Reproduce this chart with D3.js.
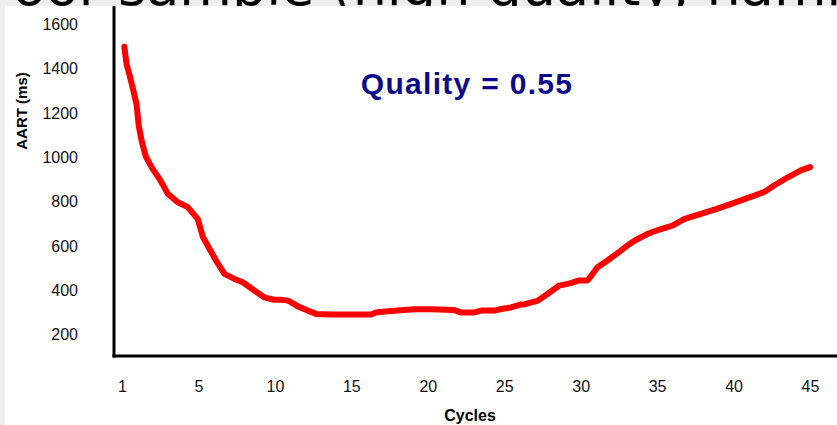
<!DOCTYPE html>
<html><head><meta charset="utf-8">
<script src="https://cdn.jsdelivr.net/npm/d3@7"></script>
<style>html,body{margin:0;padding:0;background:#eeeeee;overflow:hidden}svg{display:block}</style>
</head><body>
<svg id="c" width="837" height="425"></svg>
<script>
const slideTitle = "Poor sample (high quality, hamming window)";
const chartNote = "Quality = 0.55";
const xTitle = "Cycles";
const yTitle = "AART (ms)";
const xTickPos = [0, 5, 10, 15, 20, 25, 30, 35, 40, 45];
const xTickLabels = ["1", "5", "10", "15", "20", "25", "30", "35", "40", "45"];
const yTicks = [200, 400, 600, 800, 1000, 1200, 1400, 1600];
const cycles = [0.15,0.3,0.5,0.75,0.95,1.1,1.3,1.55,2.0,2.45,3.0,3.65,4.3,4.95,5.3,5.6,6.15,6.7,7.35,7.9,8.65,9.3,9.95,10.4,10.85,11.05,11.5,12.15,12.7,13.7,14.75,16.3,16.6,17.4,19.1,20.2,21.7,22.2,23.0,23.5,24.35,24.8,25.45,26.1,26.3,27.2,27.85,28.6,29.35,29.9,30.45,30.7,31.1,31.75,32.5,33.2,33.6,34.4,35.15,36.0,36.8,37.65,38.75,39.85,40.9,42.0,42.65,43.55,44.4,45.0];
const aart = [1500,1420,1370,1300,1240,1140,1070,1005,948,903,835,797,775,722,639,602,534,474,451,436,399,368,357,357,353,346,327,308,293,290,290,290,299,305,314,314,311,299,299,308,308,315,322,336,336,353,384,421,432,444,444,466,504,534,572,609,627,655,674,692,722,740,764,790,816,843,873,910,941,956];

const svg = d3.select("#c");
const font = "'Liberation Sans', Arial, sans-serif";

// slide background band + clipped slide title
svg.append("rect").attr("x",0).attr("y",0).attr("width",837).attr("height",425).attr("fill","#eeeeee");
svg.append("text").attr("x",-18).attr("y",5).attr("font-family","'DejaVu Sans', sans-serif")
  .attr("font-size",54).attr("fill","#000").text(slideTitle);
// chart picture area
svg.append("rect").attr("x",5).attr("y",6).attr("width",832).attr("height",419).attr("fill","#ffffff");

const x = d3.scaleLinear().domain([0,45]).range([122,810]);
const y = d3.scaleLinear().domain([200,1600]).range([334.5,24.5]);
const axisX = 114, axisY = 356;

// y tick labels
const ya = svg.append("g").attr("transform",`translate(${axisX},0)`)
  .call(d3.axisLeft(y).tickValues(yTicks).tickSize(0).tickPadding(36).tickFormat(d3.format("d")));
ya.select(".domain").remove();
ya.selectAll("text").attr("font-family",font).attr("font-size",16).attr("fill","#111");

// x tick labels
const xa = svg.append("g").attr("transform",`translate(0,${axisY})`)
  .call(d3.axisBottom(x).tickValues(xTickPos).tickSize(0).tickFormat((d,i)=>xTickLabels[i]));
xa.select(".domain").remove();
xa.selectAll("text").attr("font-family",font).attr("font-size",16).attr("fill","#111")
  .attr("y",36).attr("dy",0);

// axes lines
svg.append("line").attr("x1",axisX).attr("x2",axisX).attr("y1",6).attr("y2",axisY+1.5)
  .attr("stroke","#000").attr("stroke-width",3);
svg.append("line").attr("x1",axisX-1.5).attr("x2",837).attr("y1",axisY).attr("y2",axisY)
  .attr("stroke","#000").attr("stroke-width",3);

// axis titles
svg.append("text").attr("transform","translate(27,111) rotate(-90)").attr("text-anchor","middle")
  .attr("font-family",font).attr("font-weight","bold").attr("font-size",15).attr("fill","#000").text(yTitle);
svg.append("text").attr("x",470).attr("y",421).attr("text-anchor","middle")
  .attr("font-family",font).attr("font-weight","bold").attr("font-size",16).attr("fill","#000").text(xTitle);

// annotation
svg.append("text").attr("x",467).attr("y",94).attr("text-anchor","middle")
  .attr("font-family",font).attr("font-weight","bold").attr("font-size",30).attr("letter-spacing",1.3)
  .attr("fill","#0b0b8a").text(chartNote);

// data line
const line = d3.line().x((d,i)=>x(cycles[i])).y(d=>y(d));
svg.append("path").datum(aart).attr("d",line).attr("fill","none").attr("stroke","#ff0000")
  .attr("stroke-width",6).attr("stroke-linejoin","round").attr("stroke-linecap","round");
</script>
</body></html>
